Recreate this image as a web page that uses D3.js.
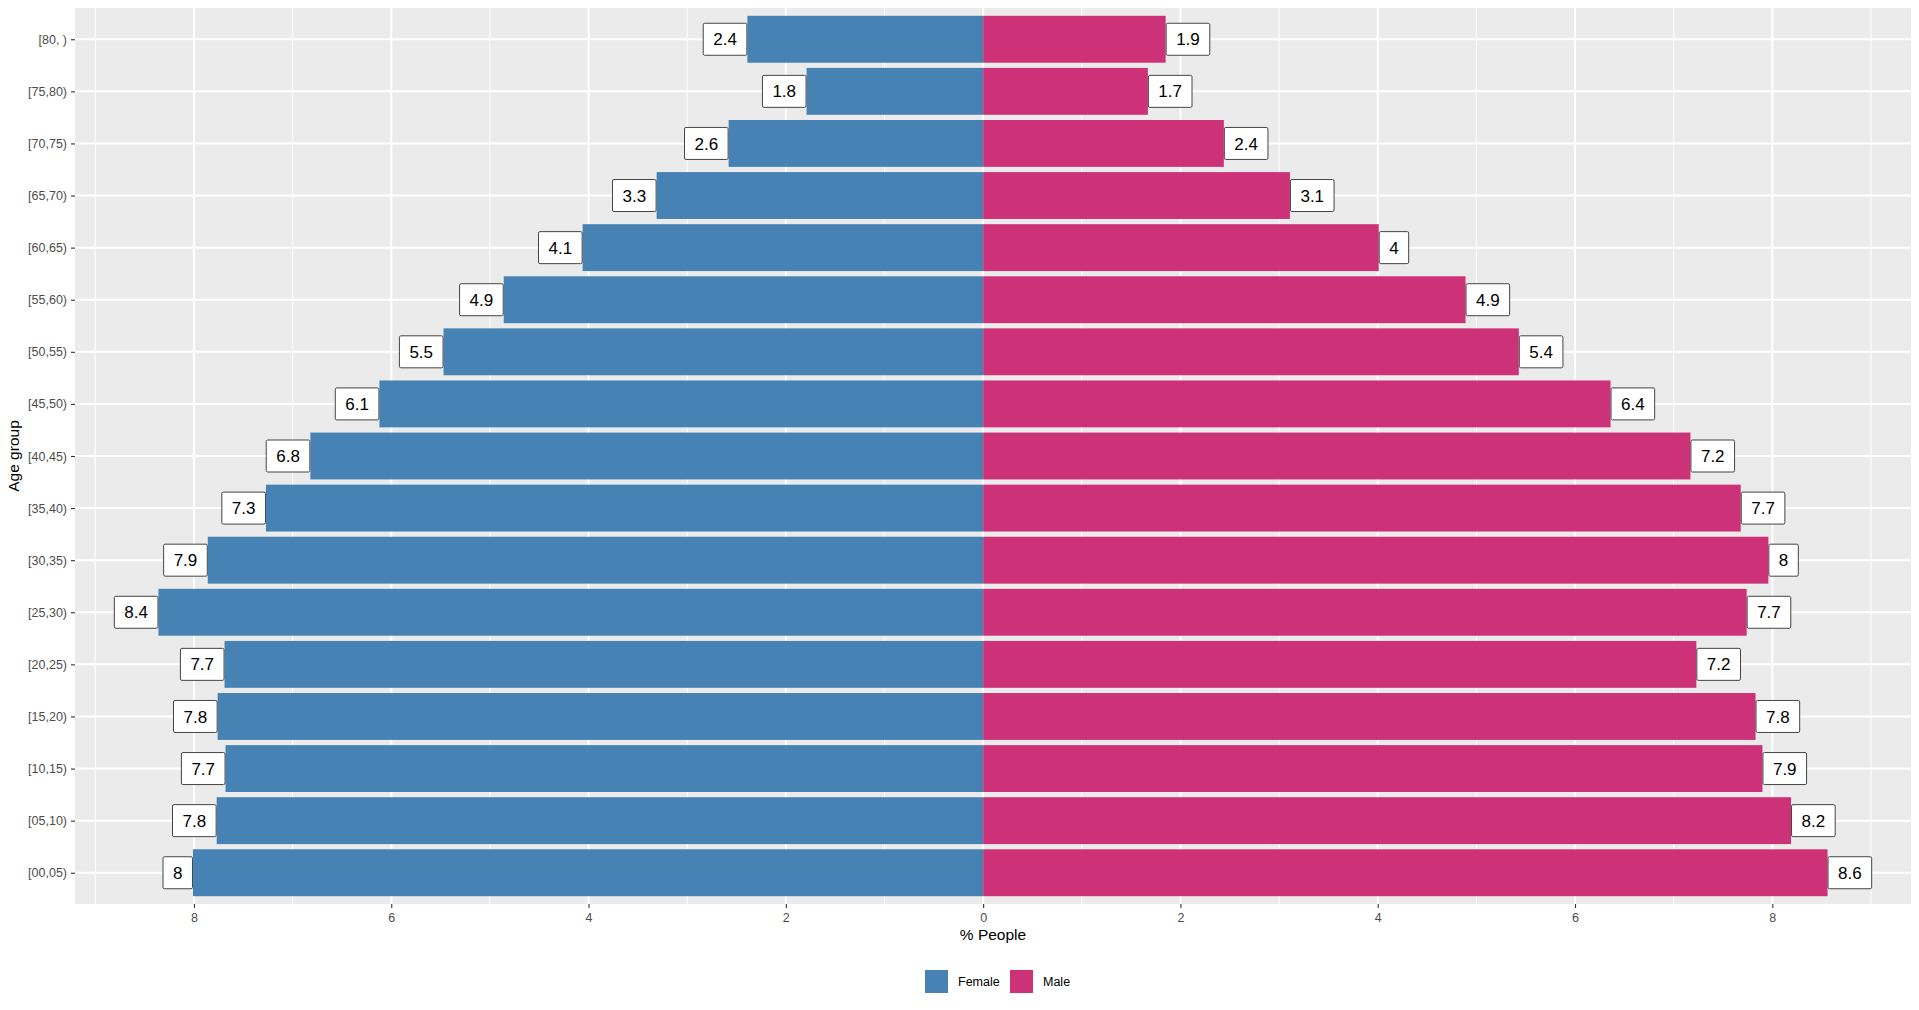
<!DOCTYPE html>
<meta charset="utf-8">
<html>
<head><title>Population pyramid</title>
<script src="https://d3js.org/d3.v7.min.js"></script>
<style>
    body { margin: 0; background: #fff; }
    text { font-family: "Liberation Sans", Arial, sans-serif; }
    .axis text { fill: #4D4D4D; font-size: 12.5px; }
    .axis line { stroke: #333; }
</style>
</head>
<body>
<script>
var W = 1919, H = 1010;

// age groups, bottom to top
var ageGroups = ["[00,05)", "[05,10)", "[10,15)", "[15,20)", "[20,25)", "[25,30)", "[30,35)", "[35,40)",
    "[40,45)", "[45,50)", "[50,55)", "[55,60)", "[60,65)", "[65,70)", "[70,75)", "[75,80)", "[80, )"];
// % of people in each group
var female = [8.01, 7.77, 7.68, 7.76, 7.69, 8.36, 7.86, 7.27, 6.82, 6.12, 5.47, 4.86, 4.06, 3.31, 2.58, 1.79, 2.39];
var male = [8.56, 8.19, 7.90, 7.83, 7.23, 7.74, 7.96, 7.68, 7.17, 6.36, 5.43, 4.89, 4.01, 3.11, 2.44, 1.67, 1.85];
var sexes = ["Female", "Male"];
var colours = ["#4682B4", "#CD3278"];
var xTicks = [-8, -6, -4, -2, 0, 2, 4, 6, 8];
var xMinor = [-9, -7, -5, -3, -1, 1, 3, 5, 7, 9];

var panel = {left: 75, right: 1911, top: 8, bottom: 904};

var svg = d3.select("body").append("svg").attr("width", W).attr("height", H);

// ggplot style 5% expansion of the data range
var lo = -d3.max(female), hi = d3.max(male), pad = (hi - lo) * 0.05;
var x = d3.scaleLinear().domain([lo - pad, hi + pad]).range([panel.left, panel.right]);
var y = d3.scalePoint().domain(ageGroups.slice().reverse()).range([panel.top, panel.bottom]).padding(0.6);
var barH = y.step() * 0.9;

svg.append("rect")
    .attr("x", panel.left).attr("y", panel.top)
    .attr("width", panel.right - panel.left).attr("height", panel.bottom - panel.top)
    .attr("fill", "#EBEBEB");

var grid = svg.append("g");
grid.selectAll(".minor").data(xMinor).enter().append("line")
    .attr("x1", d => x(d)).attr("x2", d => x(d))
    .attr("y1", panel.top).attr("y2", panel.bottom)
    .attr("stroke", "#fff").attr("stroke-width", 1);
grid.selectAll(".major").data(xTicks).enter().append("line")
    .attr("x1", d => x(d)).attr("x2", d => x(d))
    .attr("y1", panel.top).attr("y2", panel.bottom)
    .attr("stroke", "#fff").attr("stroke-width", 2);
grid.selectAll(".hmajor").data(ageGroups).enter().append("line")
    .attr("x1", panel.left).attr("x2", panel.right)
    .attr("y1", d => y(d)).attr("y2", d => y(d))
    .attr("stroke", "#fff").attr("stroke-width", 2);

// bars
var rows = ageGroups.map((g, i) => ({group: g, f: female[i], m: male[i]}));
var bars = svg.append("g");
bars.selectAll(".f").data(rows).enter().append("rect")
    .attr("x", d => x(-d.f)).attr("width", d => x(0) - x(-d.f))
    .attr("y", d => y(d.group) - barH / 2).attr("height", barH)
    .attr("fill", colours[0]);
bars.selectAll(".m").data(rows).enter().append("rect")
    .attr("x", x(0)).attr("width", d => x(d.m) - x(0))
    .attr("y", d => y(d.group) - barH / 2).attr("height", barH)
    .attr("fill", colours[1]);

// value labels
function addLabel(v, group, side) {
    var g = svg.append("g");
    var t = g.append("text").text(String(+v.toFixed(1)))
        .attr("font-size", "17px").attr("fill", "#000")
        .attr("text-anchor", "middle").attr("dy", "0.36em");
    var w = t.node().getComputedTextLength() + 21, h = 33;
    var x0 = side < 0 ? x(-v) - w : x(v);
    g.insert("rect", "text")
        .attr("x", x0 + 0.5).attr("y", y(group) - h / 2 + 0.5)
        .attr("width", w - 1).attr("height", h - 1)
        .attr("rx", 1.5)
        .attr("fill", "#fff").attr("stroke", "#444").attr("stroke-width", 1);
    t.attr("x", x0 + w / 2).attr("y", y(group));
}
rows.forEach(d => { addLabel(d.f, d.group, -1); addLabel(d.m, d.group, 1); });

// axes
var xAxis = svg.append("g").attr("class", "axis")
    .attr("transform", "translate(0," + panel.bottom + ")")
    .call(d3.axisBottom(x).tickValues(xTicks).tickFormat(d => Math.abs(d)).tickSize(4).tickPadding(5));
var yAxis = svg.append("g").attr("class", "axis")
    .attr("transform", "translate(" + panel.left + ",0)")
    .call(d3.axisLeft(y).tickSize(4).tickPadding(4));
svg.selectAll(".axis .domain").remove();
svg.selectAll(".axis text").attr("font-family", null);
svg.selectAll(".axis line").attr("stroke", "#333").attr("stroke-width", 1.1);

svg.append("text").text("% People")
    .attr("x", (panel.left + panel.right) / 2).attr("y", 940)
    .attr("text-anchor", "middle").attr("font-size", "15.5px").attr("fill", "#000");
svg.append("text").text("Age group")
    .attr("transform", "translate(19," + (panel.top + panel.bottom) / 2 + ") rotate(-90)")
    .attr("text-anchor", "middle").attr("font-size", "15.5px").attr("fill", "#000");

// legend
var legendX = [925, 1010];
var legend = svg.append("g");
sexes.forEach((s, i) => {
    legend.append("rect")
        .attr("x", legendX[i]).attr("y", 970).attr("width", 23).attr("height", 23)
        .attr("fill", colours[i]);
    legend.append("text").text(s)
        .attr("x", legendX[i] + 33).attr("y", 981.5).attr("dy", "0.36em")
        .attr("font-size", "12.5px").attr("fill", "#000");
});
</script>
</body>
</html>
